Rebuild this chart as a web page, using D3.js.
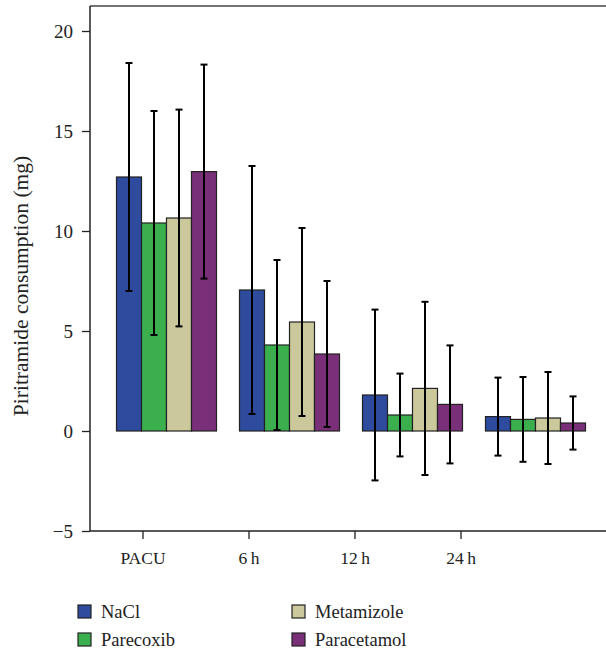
<!DOCTYPE html>
<html>
<head>
<meta charset="utf-8">
<script src="https://cdn.jsdelivr.net/npm/d3@7.9.0/dist/d3.min.js"></script>
<style>
  body { margin: 0; background: #fff; }
  svg text { font-family: "Liberation Serif", "DejaVu Serif", serif; }
</style>
</head>
<body>
<div id="chart"></div>
<script>
const categories = ['PACU', '6\u2009h', '12\u2009h', '24\u2009h'];
const groups = ['NaCl', 'Parecoxib', 'Metamizole', 'Paracetamol'];
const colors = ['#2f4b9e', '#3bae4e', '#cbc99b', '#7a3079'];

// means per group, one entry per category
const naclMean = [12.7, 7.05, 1.8, 0.72];
const parecoxibMean = [10.4, 4.3, 0.8, 0.58];
const metamizoleMean = [10.65, 5.45, 2.13, 0.65];
const paracetamolMean = [12.97, 3.85, 1.33, 0.4];

// standard deviations
const naclSd = [5.7, 6.2, 4.27, 1.95];
const parecoxibSd = [5.6, 4.25, 2.07, 2.12];
const metamizoleSd = [5.42, 4.7, 4.33, 2.3];
const paracetamolSd = [5.35, 3.65, 2.95, 1.33];

const yTicks = [-5, 0, 5, 10, 15, 20];

const means = [naclMean, parecoxibMean, metamizoleMean, paracetamolMean];
const sds = [naclSd, parecoxibSd, metamizoleSd, paracetamolSd];

const data = [];
categories.forEach((c, i) => {
  groups.forEach((g, j) => {
    data.push({ cat: c, group: g, mean: means[j][i], sd: sds[j][i], color: colors[j] });
  });
});

const width = 606;
const height = 650;
const m = { left: 90, top: 6, right: 610, bottom: 531 };

const svg = d3.select('#chart')
  .append('svg')
  .attr('width', width)
  .attr('height', height);

const y = d3.scaleLinear()
  .domain([-5, 21.25])
  .range([m.bottom, m.top]);

// bars sit on their own band scale, shifted from the tick positions
const pad = 23 / 123;
const xBars = d3.scaleBand()
  .domain(categories)
  .range([105, 597])
  .paddingInner(pad)
  .paddingOuter(pad / 2);

const xSub = d3.scaleBand()
  .domain(groups)
  .range([0, xBars.bandwidth()]);

const xTicks = d3.scaleBand()
  .domain(categories)
  .range([m.left, 514]);

// frame
svg.append('line')
  .attr('x1', m.left).attr('x2', m.right)
  .attr('y1', m.top).attr('y2', m.top)
  .attr('stroke', '#444').attr('stroke-width', 1.5);

const yAxis = svg.append('g')
  .attr('transform', `translate(${m.left},0)`)
  .call(d3.axisLeft(y).tickValues(yTicks).tickSize(8).tickPadding(9).tickSizeOuter(0));
yAxis.select('.domain').attr('d', `M0,${m.top}V${m.bottom}`).attr('stroke', '#222').attr('stroke-width', 1.5);
yAxis.selectAll('.tick line').attr('stroke', '#222').attr('stroke-width', 1.3);
yAxis.selectAll('.tick text').attr('font-size', 19).attr('fill', '#222');

const xAxis = svg.append('g')
  .attr('transform', `translate(0,${m.bottom})`)
  .call(d3.axisBottom(xTicks).tickSize(8).tickPadding(13).tickSizeOuter(0));
xAxis.select('.domain').attr('d', `M${m.left},0H${m.right}`).attr('stroke', '#222').attr('stroke-width', 1.5);
xAxis.selectAll('.tick line').attr('stroke', '#222').attr('stroke-width', 1.3);
xAxis.selectAll('.tick text').attr('font-size', 17.5).attr('fill', '#222');

// y label
svg.append('text')
  .attr('transform', 'translate(28,286) rotate(-90)')
  .attr('text-anchor', 'middle')
  .attr('font-size', 21.5)
  .attr('fill', '#222')
  .text('Piritramide consumption (mg)');

// bars
svg.append('g')
  .selectAll('rect')
  .data(data)
  .join('rect')
  .attr('x', d => xBars(d.cat) + xSub(d.group))
  .attr('y', d => y(Math.max(0, d.mean)))
  .attr('width', xSub.bandwidth())
  .attr('height', d => Math.abs(y(d.mean) - y(0)))
  .attr('fill', d => d.color)
  .attr('stroke', '#222')
  .attr('stroke-width', 1.2);

// error bars
const err = svg.append('g')
  .selectAll('g')
  .data(data)
  .join('g')
  .attr('transform', d => `translate(${xBars(d.cat) + xSub(d.group) + xSub.bandwidth() / 2},0)`);

err.append('line')
  .attr('y1', d => y(d.mean + d.sd))
  .attr('y2', d => y(d.mean - d.sd))
  .attr('stroke', '#000')
  .attr('stroke-width', 2);

err.selectAll('line.cap')
  .data(d => [d.mean + d.sd, d.mean - d.sd])
  .join('line')
  .attr('class', 'cap')
  .attr('x1', -3.5).attr('x2', 3.5)
  .attr('y1', v => y(v)).attr('y2', v => y(v))
  .attr('stroke', '#000')
  .attr('stroke-width', 2);

// legend
const legendPos = [[78, 605], [78, 633], [292, 605], [292, 633]];
const legend = svg.append('g')
  .selectAll('g')
  .data(groups)
  .join('g')
  .attr('transform', (d, i) => `translate(${legendPos[i][0]},${legendPos[i][1]})`);

legend.append('rect')
  .attr('width', 13).attr('height', 13)
  .attr('fill', (d, i) => colors[i])
  .attr('stroke', '#222')
  .attr('stroke-width', 1.2);

legend.append('text')
  .attr('x', 23).attr('y', 13)
  .attr('font-size', 18.5)
  .attr('fill', '#222')
  .text(d => d);
</script>
</body>
</html>
